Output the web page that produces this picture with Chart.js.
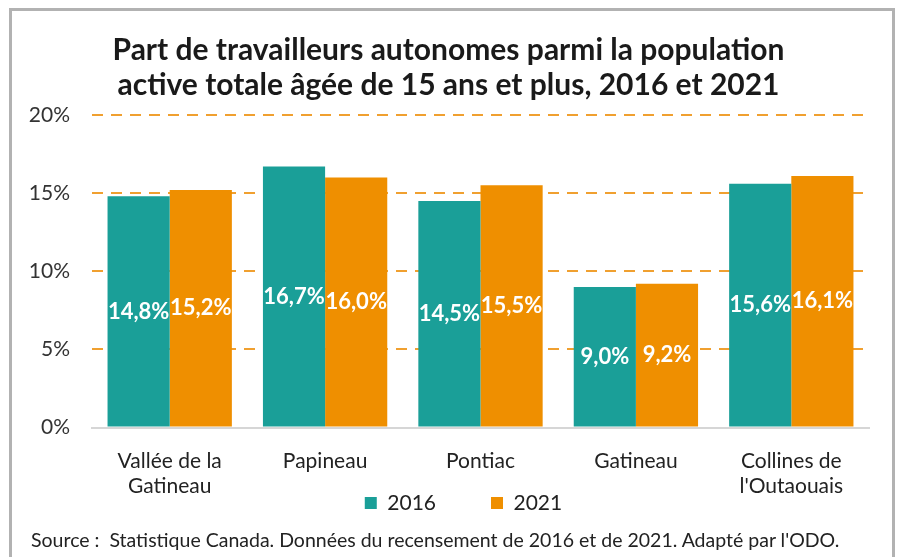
<!DOCTYPE html>
<html>
<head>
<meta charset="utf-8">
<script src="https://cdn.jsdelivr.net/npm/chart.js@4/dist/chart.umd.min.js"></script>
<style>
  html, body { margin: 0; padding: 0; background: #fff; width: 900px; height: 557px; overflow: hidden; }
  #frame { position: absolute; left: 9px; top: 8px; width: 886px; height: 640px; border: 3px solid #b2b2b2; box-sizing: border-box; }
  #wrap { position: absolute; left: 0; top: 0; width: 880px; height: 587px; }
  #source { position: absolute; left: 19px; top: 517px; font-family: Lato, sans-serif; font-size: 19.5px; color: #222; white-space: pre; background: transparent; }
</style>
</head>
<body>
<div id="frame">
  <div id="wrap"><canvas id="c"></canvas></div>
  <div id="source">Source :  Statistique Canada. Données du recensement de 2016 et de 2021. Adapté par l'ODO.</div>
</div>
<script>
const categories = [["Vallée de la", "Gatineau"], "Papineau", "Pontiac", "Gatineau", ["Collines de", "l'Outaouais"]];
const values2016 = [14.8, 16.7, 14.5, 9.0, 15.6];
const values2021 = [15.2, 16.0, 15.5, 9.2, 16.1];
const seriesLabels = ["2016", "2021"];
const yTicks = [0, 5, 10, 15, 20];
const titleLines = ["Part de travailleurs autonomes parmi la population", "active totale âgée de 15 ans et plus, 2016 et 2021"];

const TEAL = "#1a9f98";
const ORANGE = "#ef8f00";
const FONT = "Lato, sans-serif";
const LEGEND_PAD = 55;
const LEGEND_FONT = 21;

const barLabels = {
  id: "barLabels",
  afterDatasetsDraw(chart) {
    const ctx = chart.ctx;
    ctx.save();
    ctx.fillStyle = "#ffffff";
    ctx.font = "bold 22px " + FONT;
    ctx.textAlign = "center";
    ctx.textBaseline = "middle";
    chart.data.datasets.forEach((ds, di) => {
      const meta = chart.getDatasetMeta(di);
      meta.data.forEach((bar, i) => {
        const v = ds.data[i];
        const txt = v.toFixed(1).replace(".", ",") + "%";
        ctx.fillText(txt, bar.x, (bar.y + bar.base) / 2);
      });
    });
    ctx.restore();
  }
};

// Move the legend up next to the category labels and slightly right, as in the reference
const legendPlace = {
  id: "legendPlace",
  afterLayout(chart) {
    const lg = chart.legend;
    if (!lg) return;
    const target = chart.scales.x.bottom - 9;
    const cur = lg.top + LEGEND_PAD + LEGEND_FONT / 2;
    const d = cur - target;
    lg.top -= d; lg.bottom -= d;
    lg.left += 15; lg.right += 15;
  }
};

new Chart(document.getElementById("c"), {
  type: "bar",
  data: {
    labels: categories,
    datasets: [
      { label: seriesLabels[0], data: values2016, backgroundColor: TEAL, borderWidth: 0 },
      { label: seriesLabels[1], data: values2021, backgroundColor: ORANGE, borderWidth: 0 }
    ]
  },
  options: {
    responsive: true,
    maintainAspectRatio: false,
    animation: false,
    layout: { padding: { left: 16, right: 23, top: 10, bottom: 0 } },
    datasets: { bar: { categoryPercentage: 0.8, barPercentage: 1.0 } },
    plugins: {
      title: {
        display: true,
        text: titleLines,
        color: "#1a1a1a",
        font: { family: FONT, size: 30, weight: "bold", lineHeight: 35 / 30 },
        padding: { top: 11.5, bottom: 12.5 }
      },
      legend: {
        display: true,
        position: "bottom",
        labels: {
          color: "#222",
          font: { family: FONT, size: LEGEND_FONT },
          boxWidth: 12,
          boxHeight: 12,
          padding: LEGEND_PAD
        }
      },
      tooltip: { enabled: false }
    },
    scales: {
      x: {
        grid: { display: false },
        border: { display: true, color: "#d6d6d6", width: 2 },
        ticks: { color: "#222", font: { family: FONT, size: 21, lineHeight: 1.2 }, maxRotation: 0, padding: 13 }
      },
      y: {
        min: 0,
        max: 20,
        afterBuildTicks(axis) { axis.ticks = yTicks.map(v => ({ value: v })); },
        afterFit(axis) { axis.width = 64; },
        grid: {
          color: (c) => c.tick && c.tick.value === 0 ? "rgba(0,0,0,0)" : "#f0a030",
          lineWidth: 2,
          drawTicks: false
        },
        border: { display: false, dash: [11, 8] },
        ticks: {
          color: "#333",
          font: { family: FONT, size: 21 },
          padding: 22,
          callback: (v) => v + "%"
        }
      }
    }
  },
  plugins: [barLabels, legendPlace]
});
</script>
</body>
</html>
